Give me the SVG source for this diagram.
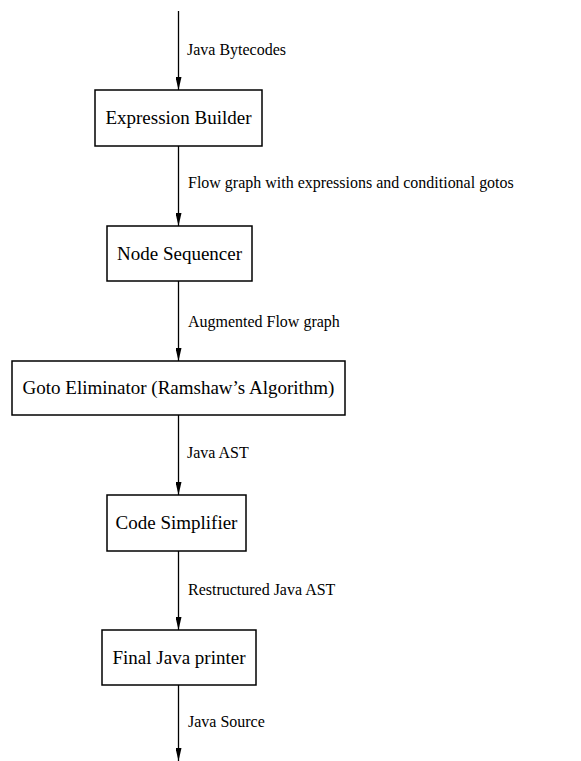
<svg xmlns="http://www.w3.org/2000/svg" width="581" height="761" viewBox="0 0 581 761">
<defs>
<marker id="ah" markerUnits="userSpaceOnUse" markerWidth="13" markerHeight="6" refX="13" refY="3" orient="auto" viewBox="0 0 13 6">
<path d="M0,0 L13,3 L0,6 Z" fill="#000"/>
</marker>
<style>
.box{fill:#fff;stroke:#000;stroke-width:1.5}
.bt{font-family:"Liberation Serif","Times New Roman",serif;font-size:19px;fill:#000;text-anchor:middle}
.lb{font-family:"Liberation Serif","Times New Roman",serif;font-size:16px;fill:#000}
.edge{stroke:#000;stroke-width:1.3;fill:none;marker-end:url(#ah)}
</style>
</defs>
<rect width="581" height="761" fill="#fff"/>
<g id="connectors">
<line class="edge" x1="178.5" y1="11" x2="178.5" y2="90"/>
<line class="edge" x1="178.5" y1="146" x2="178.5" y2="226"/>
<line class="edge" x1="178.5" y1="281" x2="178.5" y2="361"/>
<line class="edge" x1="178.5" y1="415" x2="178.5" y2="495"/>
<line class="edge" x1="178.5" y1="551" x2="178.5" y2="630"/>
<line class="edge" x1="178.5" y1="685" x2="178.5" y2="761"/>
<text class="lb" transform="translate(187,55) scale(1,1.1)">Java Bytecodes</text>
<text class="lb" transform="translate(188,188) scale(1,1.1)">Flow graph with expressions and conditional gotos</text>
<text class="lb" transform="translate(188,327) scale(1,1.1)">Augmented Flow graph</text>
<text class="lb" transform="translate(187,458) scale(1,1.1)">Java AST</text>
<text class="lb" transform="translate(188,595) scale(1,1.1)">Restructured Java AST</text>
<text class="lb" transform="translate(188,727) scale(1,1.1)">Java Source</text>
</g>
<g id="expression-builder">
<rect class="box" x="95" y="90" width="167" height="56"/>
<text class="bt" x="178.5" y="124">Expression Builder</text>
</g>
<g id="node-sequencer">
<rect class="box" x="107" y="226" width="145" height="55"/>
<text class="bt" x="179.5" y="260">Node Sequencer</text>
</g>
<g id="goto-eliminator">
<rect class="box" x="12" y="361" width="333" height="54"/>
<text class="bt" x="178.5" y="394">Goto Eliminator (Ramshaw’s Algorithm)</text>
</g>
<g id="code-simplifier">
<rect class="box" x="107" y="495" width="139" height="56"/>
<text class="bt" x="176.5" y="529">Code Simplifier</text>
</g>
<g id="final-java-printer">
<rect class="box" x="102" y="630" width="154" height="55"/>
<text class="bt" x="179" y="664">Final Java printer</text>
</g>
</svg>
